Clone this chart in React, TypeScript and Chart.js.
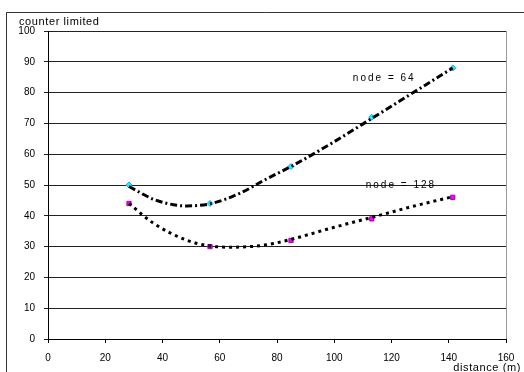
import React, { useEffect, useRef } from "react";
import { Chart, registerables } from "chart.js";
Chart.register(...registerables);

const distances = [28.3, 56.6, 84.9, 113.1, 141.4];
const node64 = [50, 44, 56, 72, 88];
const node128 = [44, 30, 32, 39, 46];

const trend64X = [28.3, 36.8, 43.8, 48.5, 56.6, 67, 76, 85.7, 99.7, 113.6, 127.6, 141.4];
const trend64Y = [49.5, 45.4, 43.6, 43.2, 43.9, 47.3, 51.8, 56.4, 63.9, 71.9, 80.0, 88];
const trend128X = [28.3, 36.8, 48.4, 56.6, 63.6, 72, 78.7, 85.1, 99.7, 113.6, 127.6, 141.4];
const trend128Y = [44, 37.6, 32.1, 30.2, 29.8, 30.1, 31, 32.4, 36.2, 39.6, 43.1, 46.2];

const xTicks = [0, 20, 40, 60, 80, 100, 120, 140, 160];
const yTicks = [0, 10, 20, 30, 40, 50, 60, 70, 80, 90, 100];

const yTitle = "counter limited";
const xTitle = "distance (m)";
const label64 = "node = 64";
const label128 = "node = 128";

const FONT = "'Liberation Sans', Arial, sans-serif";

const pts = (xs: number[], ys: number[]) => xs.map((x, i) => ({ x, y: ys[i] }));

const decor = {
  id: "decor",
  beforeDraw(chart: any) {
    const ctx = chart.ctx;
    ctx.save();
    ctx.fillStyle = "#fff";
    ctx.fillRect(0, 0, chart.width, chart.height);
    ctx.strokeStyle = "#333";
    ctx.lineWidth = 1;
    ctx.beginPath();
    ctx.moveTo(6.5, chart.height);
    ctx.lineTo(6.5, 12.5);
    ctx.lineTo(chart.width, 12.5);
    ctx.stroke();
    ctx.restore();
  },
  afterDraw(chart: any) {
    const ctx = chart.ctx;
    const a = chart.chartArea;
    const xs = chart.scales.x;
    const ys = chart.scales.y;
    ctx.save();
    ctx.strokeStyle = "#999";
    ctx.lineWidth = 1;
    ctx.beginPath();
    ctx.moveTo(Math.round(a.right) + 0.5, a.top);
    ctx.lineTo(Math.round(a.right) + 0.5, a.bottom);
    ctx.stroke();

    ctx.fillStyle = "#000";
    ctx.font = `11px ${FONT}`;
    (ctx as any).letterSpacing = "0.6px";
    ctx.textAlign = "left";
    ctx.textBaseline = "top";
    ctx.fillText(yTitle, 19, 16);

    ctx.textAlign = "right";
    ctx.textBaseline = "alphabetic";
    ctx.fillText(xTitle, 521, 371);

    ctx.font = `10px ${FONT}`;
    (ctx as any).letterSpacing = "2px";
    ctx.textAlign = "left";
    ctx.textBaseline = "middle";
    ctx.fillText(label64, xs.getPixelForValue(106.5), ys.getPixelForValue(84.7));
    ctx.fillText(label128, xs.getPixelForValue(111), ys.getPixelForValue(50));
    ctx.restore();
  },
};

export default function App() {
  const ref = useRef<HTMLCanvasElement>(null);
  useEffect(() => {
    if (!ref.current) return;
    const chart = new Chart(ref.current, {
      type: "scatter",
      data: {
        datasets: [
          {
            type: "line",
            data: pts(trend64X, trend64Y),
            borderColor: "#000",
            borderWidth: 3,
            borderDash: [7, 3, 2, 3],
            pointRadius: 0,
            cubicInterpolationMode: "monotone",
            fill: false,
          } as any,
          {
            type: "line",
            data: pts(trend128X, trend128Y),
            borderColor: "#000",
            borderWidth: 3,
            borderDash: [3, 4],
            pointRadius: 0,
            cubicInterpolationMode: "monotone",
            fill: false,
          } as any,
          {
            data: pts(distances, node64),
            pointStyle: "rectRot",
            pointRadius: 3,
            backgroundColor: "#00ffff",
            borderColor: "#3399ff",
            borderWidth: 1,
          },
          {
            data: pts(distances, node128),
            pointStyle: "rect",
            pointRadius: 3,
            backgroundColor: "#ff00ff",
            borderColor: "#aa00aa",
            borderWidth: 1,
          },
        ],
      },
      options: {
        animation: false,
        responsive: false,
        layout: { padding: { left: 0, top: 31, right: 18, bottom: 0 } },
        plugins: { legend: { display: false }, tooltip: { enabled: false } },
        scales: {
          x: {
            type: "linear",
            min: 0,
            max: 160,
            afterFit: (s: any) => { s.height = 33; },
            afterBuildTicks: (s: any) => { s.ticks = xTicks.map((v) => ({ value: v })); },
            ticks: { color: "#000", font: { family: FONT, size: 10 }, padding: 9, maxRotation: 0 },
            grid: { drawOnChartArea: false, tickLength: 4, color: "#000" },
            border: { color: "#000" },
          },
          y: {
            type: "linear",
            min: 0,
            max: 100,
            afterFit: (s: any) => { s.width = 48; },
            afterBuildTicks: (s: any) => { s.ticks = yTicks.map((v) => ({ value: v })); },
            ticks: { color: "#000", font: { family: FONT, size: 10 }, padding: 9 },
            grid: { color: "#222", tickLength: 4 },
            border: { color: "#000" },
          },
        },
      },
      plugins: [decor],
    } as any);
    return () => chart.destroy();
  }, []);
  return (
    <div style={{ position: "fixed", left: 0, top: 0, width: 524, height: 372 }}>
      <canvas ref={ref} width={524} height={372} />
    </div>
  );
}
